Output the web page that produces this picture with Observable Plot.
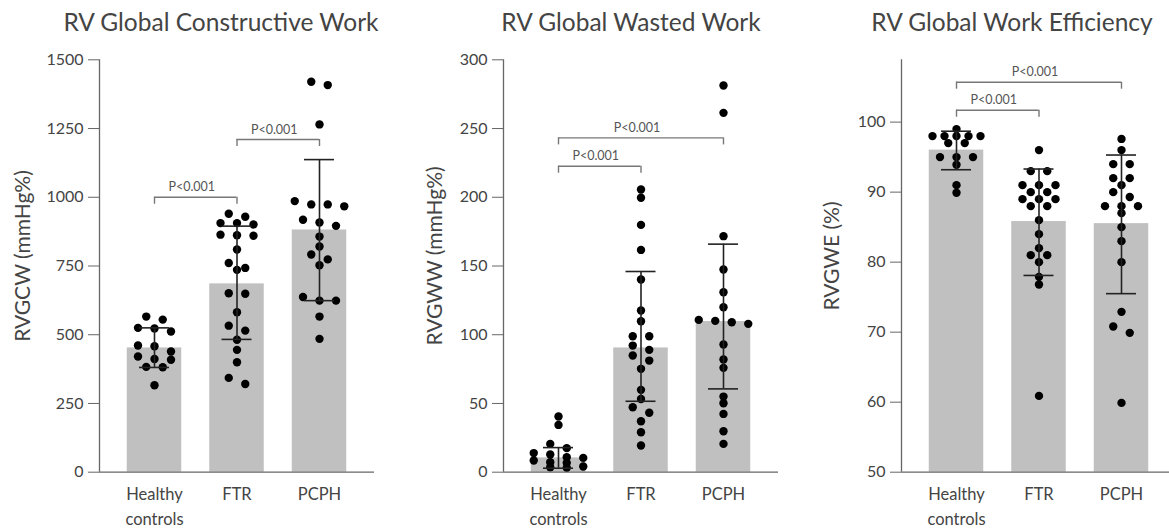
<!DOCTYPE html>
<html><head><meta charset="utf-8">
<script src="https://cdn.jsdelivr.net/npm/d3@7"></script>
<script src="https://cdn.jsdelivr.net/npm/@observablehq/plot@0.6"></script>
<style>
html,body{margin:0;padding:0;background:#fff;}
body{width:1169px;height:528px;position:relative;overflow:hidden;font-family:Lato,"Open Sans",sans-serif;}
.panel{position:absolute;top:0;height:528px;}
.panel svg{position:absolute;left:0;top:0;overflow:visible;}
.title{position:absolute;top:8px;font-size:24.5px;line-height:28.8px;color:#444;white-space:nowrap;transform:translateX(-50%);}
</style></head><body>
<script>
// ---------- data ----------
const groups = ["Healthy controls", "FTR", "PCPH"];
const tickLabels = ["Healthy\ncontrols", "FTR", "PCPH"];
const pText = "P<0.001";

// RV Global Constructive Work (mmHg%)
const gcwTicks = [0, 250, 500, 750, 1000, 1250, 1500];
const gcwHealthy = [566, 555, 525, 523, 512, 461, 458, 439, 421, 412, 409, 383, 382, 316];
const gcwFTR = [940, 929, 906, 901, 906, 862, 864, 860, 810, 761, 736, 743, 651, 649, 582, 533, 515, 482, 445, 400, 343, 321];
const gcwPCPH = [1420, 1408, 1265, 974, 974, 986, 967, 918, 896, 908, 857, 821, 792, 774, 753, 637, 624, 624, 566, 485];
const gcwMean = [452, 685, 881];
const gcwLo = [381, 483, 624];
const gcwHi = [525, 895, 1137];
const gcwBrFrom = [0, 1], gcwBrTo = [1, 2], gcwBrY = [1000, 1210];

// RV Global Wasted Work (mmHg%)
const gwwTicks = [0, 50, 100, 150, 200, 250, 300];
const gwwHealthy = [40.5, 34.4, 20.6, 17.5, 13.9, 12.9, 10.9, 10.4, 8.5, 7.3, 6.8, 4.1, 3.6, 3.2];
const gwwFTR = [205.6, 199.6, 179.9, 161.7, 140.2, 117.6, 109.8, 98.9, 98.9, 92.1, 89, 84.9, 81.2, 75.2, 59.9, 53.3, 47.3, 43.2, 37.1, 29.1, 19.4];
const gwwPCPH = [281.3, 261.4, 171.7, 147.4, 130.9, 120, 110.8, 107.9, 109.1, 110.1, 92.9, 82, 75.9, 55, 50.2, 42.4, 29.8, 20.6];
const gwwMean = [10.4, 90.4, 109.6];
const gwwLo = [2.9, 51.6, 60.6];
const gwwHi = [17.9, 146, 165.9];
const gwwBrFrom = [0, 0], gwwBrTo = [1, 2], gwwBrY = [222.6, 243.2];

// RV Global Work Efficiency (%)
const gweTicks = [50, 60, 70, 80, 90, 100];
const gweHealthy = [99, 98, 98, 98, 98, 98, 97, 97, 95, 95, 95, 93.9, 91, 89.9];
const gweFTR = [96, 93, 93, 91, 91, 91, 90, 90, 89, 89, 89, 88, 88, 86, 84, 82, 81, 81, 80, 77.9, 76.8, 60.9];
const gwePCPH = [97.6, 96, 94, 94, 92, 92, 91, 90, 89.3, 88, 88, 88, 87, 85, 83, 80, 72.9, 70.8, 69.9, 59.9];
const gweMean = [96, 85.8, 85.5];
const gweLo = [93.2, 78.1, 75.5];
const gweHi = [98.7, 93.3, 95.3];
const gweBrFrom = [0, 0], gweBrTo = [1, 2], gweBrY = [101.7, 105.7];

// ---------- layout ----------
const MT = 59.3, MB = 56.3, H = 528, PLOTW = 275;
const STEP_PX = 82.5;          // px per category
const ROW_PX = 6.5;

function swarm(values, pxPerUnit) {
  const sorted = values.map((v, k) => ({v, k})).sort((a, b) => b.v - a.v || a.k - b.k);
  const rows = [];
  for (const d of sorted) {
    const row = rows[rows.length - 1];
    if (row && (row[0].v - d.v) * pxPerUnit <= ROW_PX) row.push(d); else rows.push([d]);
  }
  const out = [];
  rows.forEach(row => {
    const sp = row.length >= 5 ? 12 : 16.5;
    row.forEach((d, j) => out.push({v: d.v, off: (j - (row.length - 1) / 2) * sp / STEP_PX}));
  });
  return out;
}

const panels = [
  {left: 0, marginLeft: 99, marginRight: 16, domain: [0, 1500], ticks: gcwTicks, ylabel: "RVGCW (mmHg%)", labelX: 23,
   title: "RV Global Constructive Work", titleX: 221, series: [gcwHealthy, gcwFTR, gcwPCPH], mean: gcwMean, lo: gcwLo, hi: gcwHi,
   br: [gcwBrFrom, gcwBrTo, gcwBrY]},
  {left: 390, marginLeft: 113, marginRight: 4, domain: [0, 300], ticks: gwwTicks, ylabel: "RVGWW (mmHg%)", labelX: 45,
   title: "RV Global Wasted Work", titleX: 241, series: [gwwHealthy, gwwFTR, gwwPCPH], mean: gwwMean, lo: gwwLo, hi: gwwHi,
   br: [gwwBrFrom, gwwBrTo, gwwBrY]},
  {left: 780, marginLeft: 121, marginRight: 4, domain: [50, 108.9], ticks: gweTicks, ylabel: "RVGWE (%)", labelX: 52,
   title: "RV Global Work Efficiency", titleX: 232, series: [gweHealthy, gweFTR, gwePCPH], mean: gweMean, lo: gweLo, hi: gweHi,
   br: [gweBrFrom, gweBrTo, gweBrY]}
];

const xDomain = [-2 / 3, 8 / 3];
const barHalf = 27.25 / STEP_PX, capHalf = 15 / STEP_PX;

for (const p of panels) {
  const width = p.marginLeft + PLOTW + p.marginRight;
  const pxPerUnit = (H - MT - MB) / (p.domain[1] - p.domain[0]);
  const summary = groups.map((g, i) => ({i, mean: p.mean[i], lo: p.lo[i], hi: p.hi[i]}));
  const caps = summary.flatMap(d => [{i: d.i, y: d.lo}, {i: d.i, y: d.hi}]);
  const points = p.series.flatMap((vals, i) => swarm(vals, pxPerUnit).map(d => ({x: i + d.off, y: d.v})));
  const brackets = p.br[0].map((a, k) => ({a, b: p.br[1][k], y: p.br[2][k]}));
  const tickLen = 7 / pxPerUnit;
  const brTicks = brackets.flatMap(d => [{x: d.a, y: d.y}, {x: d.b, y: d.y}]);

  const chart = Plot.plot({
    width, height: H,
    marginLeft: p.marginLeft, marginRight: p.marginRight, marginTop: MT, marginBottom: MB,
    style: {fontFamily: "Lato, 'Open Sans', sans-serif", color: "#444", background: "transparent", overflow: "visible"},
    x: {type: "linear", domain: xDomain},
    y: {domain: p.domain},
    marks: [
      Plot.rectY(summary, {x1: d => d.i - barHalf, x2: d => d.i + barHalf, y1: p.domain[0], y2: "mean", fill: "#c0c0c0"}),
      Plot.dot(points, {x: "x", y: "y", r: 4.2, fill: "#000", stroke: "none"}),
      Plot.ruleX(summary, {x: "i", y1: "lo", y2: "hi", stroke: "#222", strokeWidth: 1.6}),
      Plot.ruleY(caps, {y: "y", x1: d => d.i - capHalf, x2: d => d.i + capHalf, stroke: "#222", strokeWidth: 1.6}),
      Plot.ruleY(brackets, {y: "y", x1: "a", x2: "b", stroke: "#777", strokeWidth: 1.4}),
      Plot.ruleX(brTicks, {x: "x", y1: "y", y2: d => d.y - tickLen, stroke: "#777", strokeWidth: 1.4}),
      Plot.text(brackets, {x: d => (d.a + d.b) / 2, y: "y", text: () => pText, dx: -4, dy: -6, lineAnchor: "bottom",
        fontSize: 12.5, fill: "#555", ariaLabel: "pval"}),
      Plot.axisY({ticks: p.ticks, tickFormat: d => String(d), tickSize: 11, tickPadding: 5, fontSize: 16,
        stroke: "#666", fill: "#444", label: null}),
      Plot.axisX({ticks: [0, 1, 2], tickFormat: i => tickLabels[i], tickSize: 0, tickPadding: 10, fontSize: 16.5,
        lineHeight: 1.5, fill: "#444", label: null}),
      Plot.ruleX([xDomain[0]], {y1: p.domain[0], y2: p.domain[1], stroke: "#666", strokeWidth: 1.3}),
      Plot.ruleY([p.domain[0]], {stroke: "#666", strokeWidth: 1.3}),
      Plot.text([p.ylabel], {frameAnchor: "left", rotate: -90, dx: p.labelX - p.marginLeft, dy: -10,
        fontSize: 21, fill: "#444", textAnchor: "middle"})
    ]
  });

  chart.querySelectorAll('g[aria-label="pval"] text').forEach(t => {
    const s = t.textContent;
    t.textContent = "";
    const ts = document.createElementNS("http://www.w3.org/2000/svg", "tspan");
    ts.setAttribute("font-style", "italic");
    ts.textContent = s.slice(0, 1);
    t.appendChild(ts);
    t.appendChild(document.createTextNode(s.slice(1)));
  });

  const div = document.createElement("div");
  div.className = "panel";
  div.style.left = p.left + "px";
  div.style.width = width + "px";
  const title = document.createElement("div");
  title.className = "title";
  title.textContent = p.title;
  title.style.left = p.titleX + "px";
  div.appendChild(chart);
  div.appendChild(title);
  document.body.appendChild(div);
}
</script>
</body></html>
